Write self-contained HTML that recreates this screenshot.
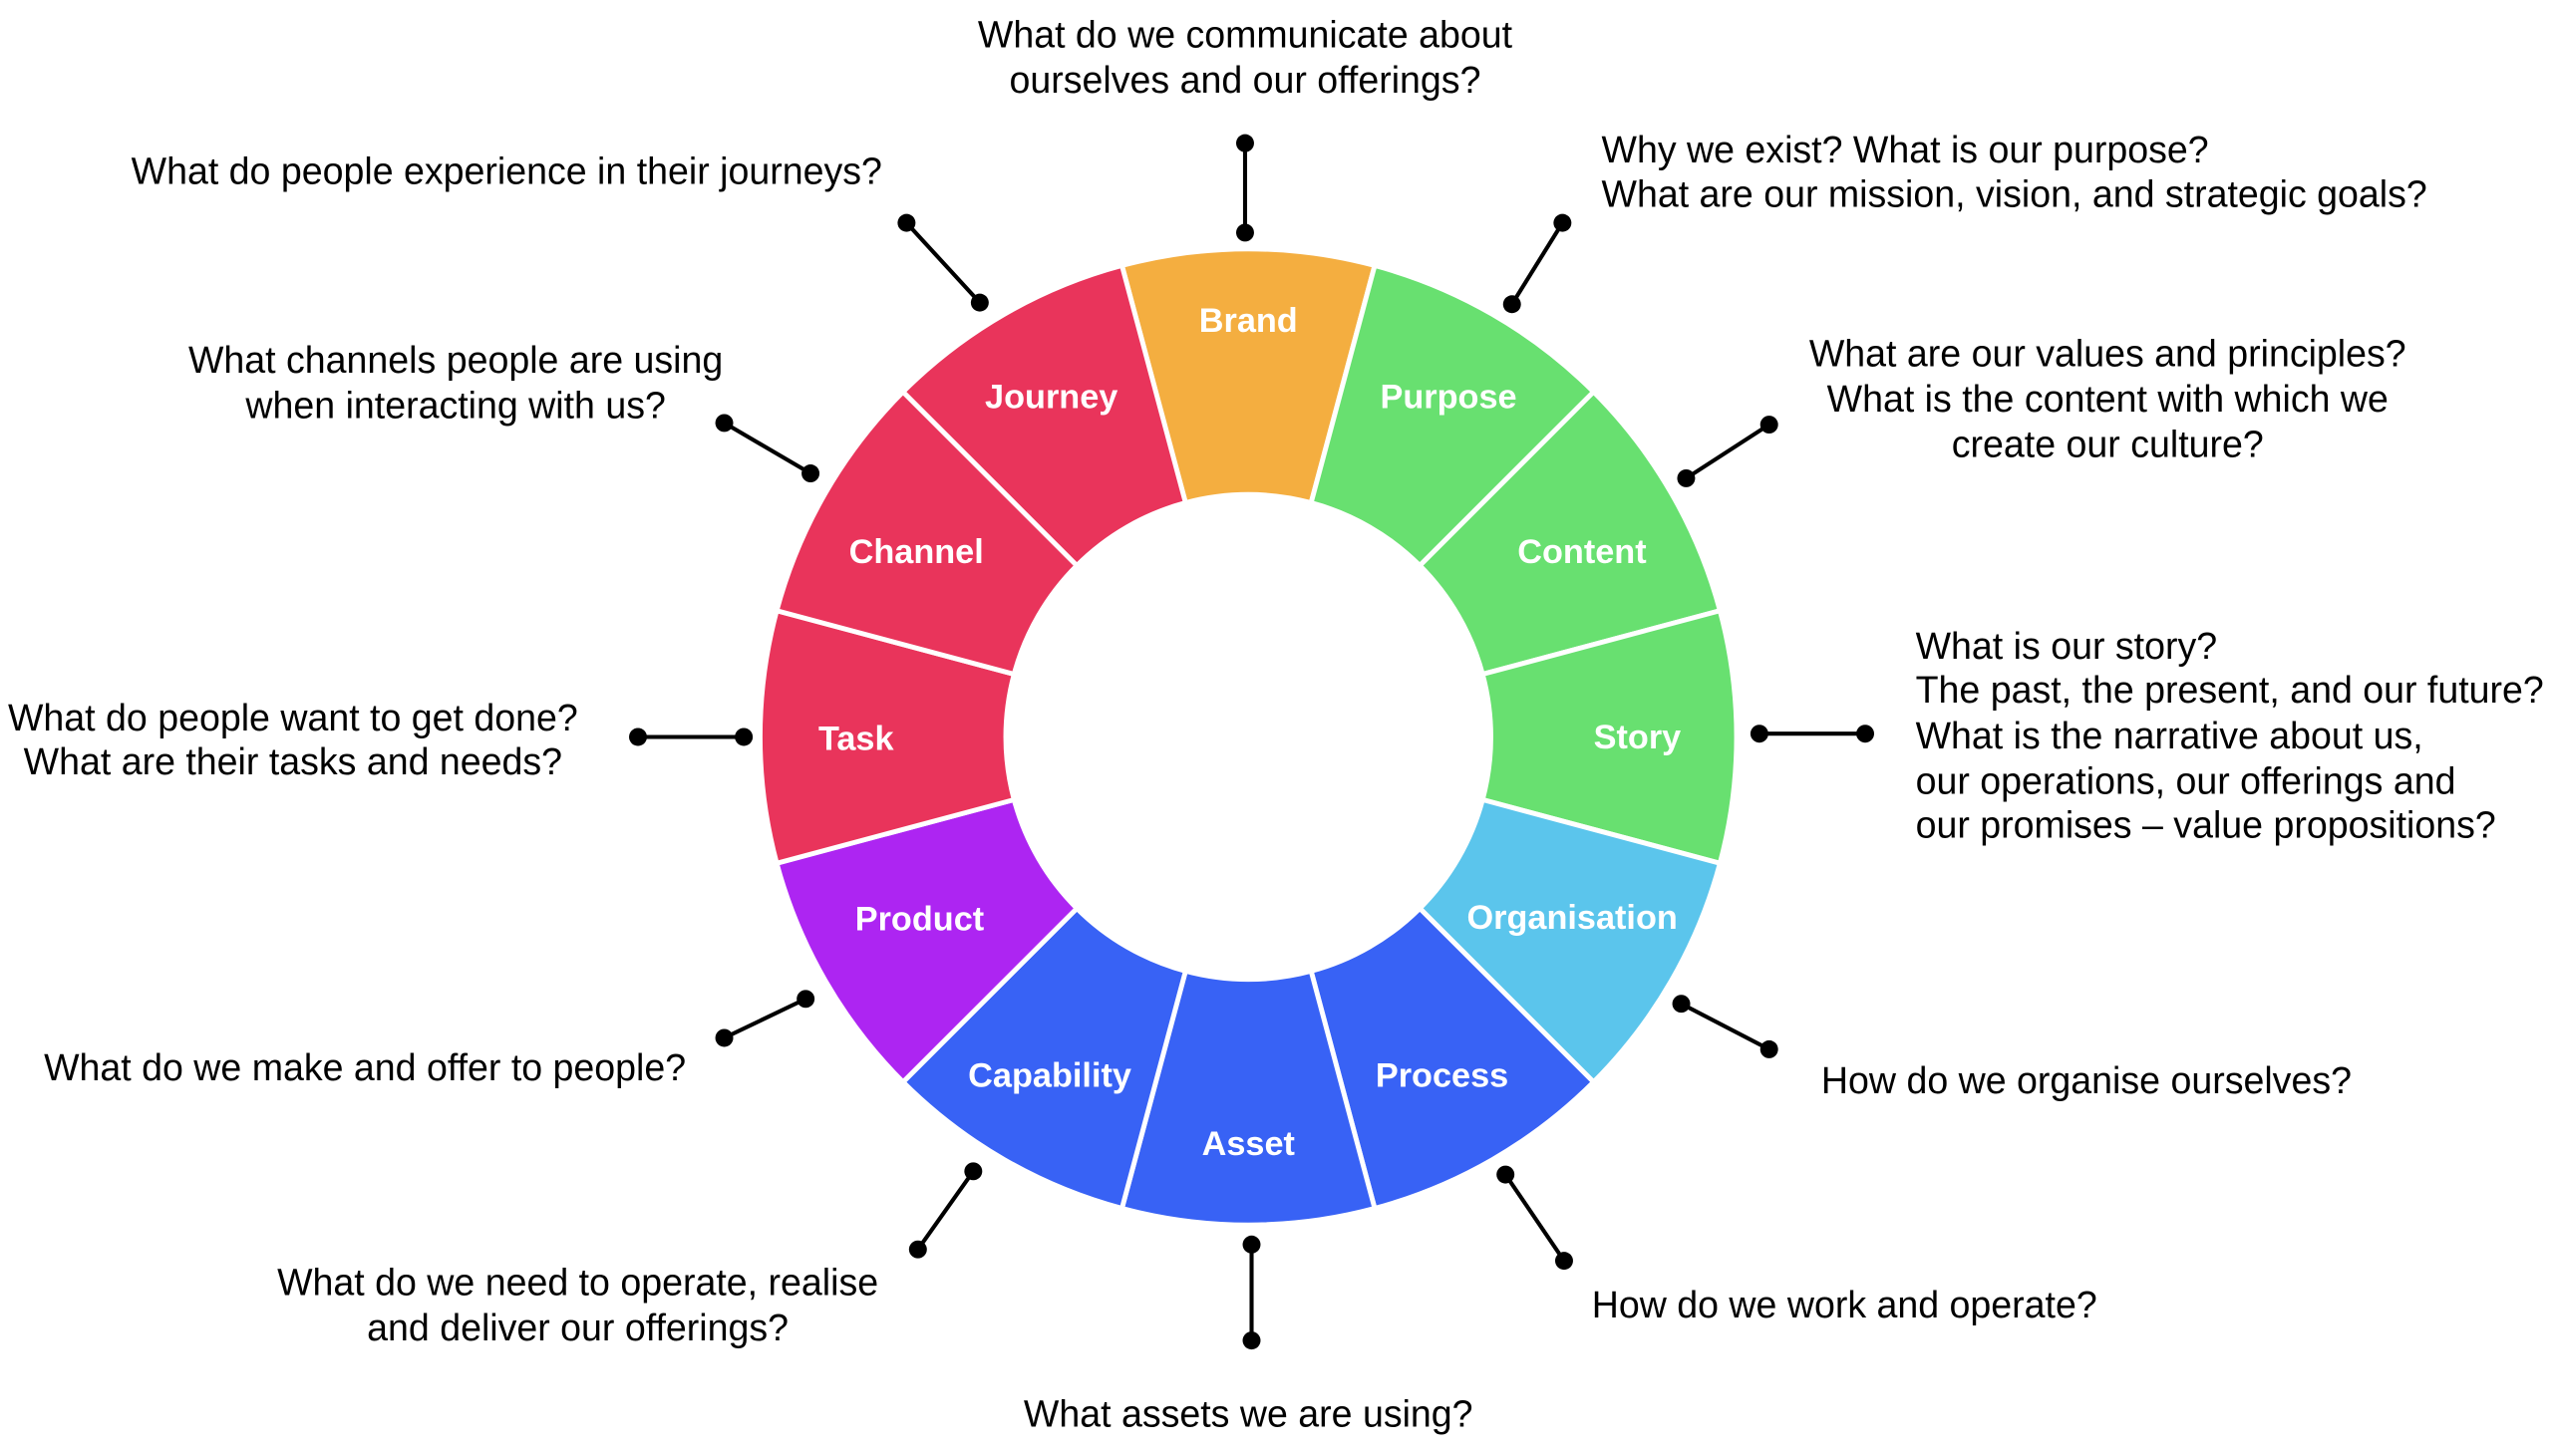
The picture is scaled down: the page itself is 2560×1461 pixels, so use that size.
<!DOCTYPE html>
<html><head><meta charset="utf-8"><style>
html,body{margin:0;padding:0;background:#fff;width:2560px;height:1461px;overflow:hidden}
svg{display:block}
text{font-family:"Liberation Sans",Arial,sans-serif}
.q{font-size:23px;fill:#000}
.s{font-size:21px;font-weight:bold;fill:#fff}
</style></head><body>
<svg id="s" width="2560" height="1461" viewBox="0 0 1568 895" preserveAspectRatio="none" xmlns="http://www.w3.org/2000/svg">
<g id="segs"></g>
<g id="conn"></g>
<g text-anchor="middle" class="s">
<text x="767" y="204">Brand</text>
<text x="890" y="251">Purpose</text>
<text x="972" y="346">Content</text>
<text x="1006" y="460">Story</text>
<text x="966" y="571">Organisation</text>
<text x="886" y="668">Process</text>
<text x="767" y="710">Asset</text>
<text x="645" y="668">Capability</text>
<text x="565" y="572">Product</text>
<text x="526" y="461">Task</text>
<text x="563" y="346">Channel</text>
<text x="646" y="251">Journey</text>
</g>
<g class="q">
<text x="765" y="29" text-anchor="middle">What do we communicate about</text>
<text x="765" y="57" text-anchor="middle">ourselves and our offerings?</text>
<text x="542" y="113" text-anchor="end">What do people experience in their journeys?</text>
<text x="984" y="100">Why we exist? What is our purpose?</text>
<text x="984" y="127">What are our mission, vision, and strategic goals?</text>
<text x="280" y="229" text-anchor="middle">What channels people are using</text>
<text x="280" y="257" text-anchor="middle">when interacting with us?</text>
<text x="1295" y="225" text-anchor="middle">What are our values and principles?</text>
<text x="1295" y="253" text-anchor="middle">What is the content with which we</text>
<text x="1295" y="281" text-anchor="middle">create our culture?</text>
<text x="1177" y="405">What is our story?</text>
<text x="1177" y="432">The past, the present, and our future?</text>
<text x="1177" y="460">What is the narrative about us,</text>
<text x="1177" y="488">our operations, our offerings and</text>
<text x="1177" y="515">our promises – value propositions?</text>
<text x="180" y="449" text-anchor="middle">What do people want to get done?</text>
<text x="180" y="476" text-anchor="middle">What are their tasks and needs?</text>
<text x="1119" y="672">How do we organise ourselves?</text>
<text x="27" y="664">What do we make and offer to people?</text>
<text x="355" y="796" text-anchor="middle">What do we need to operate, realise</text>
<text x="355" y="824" text-anchor="middle">and deliver our offerings?</text>
<text x="978" y="810">How do we work and operate?</text>
<text x="767" y="877" text-anchor="middle">What assets we are using?</text>
</g>
</svg>
<script>
var cx=767,cy=453,R=300,r=149;
var cols=['#F4AE40','#68E070','#68E070','#68E070','#5BC5EC','#3862F5','#3862F5','#3862F5','#AD25F2','#E9345B','#E9345B','#E9345B'];
var ns='http://www.w3.org/2000/svg';
function P(a,rad){var t=(a-90)*Math.PI/180;return [cx+rad*Math.cos(t),cy+rad*Math.sin(t)];}
var g=document.getElementById('segs'),c=document.getElementById('conn');
for(var i=0;i<12;i++){
 var a0=i*30-15,a1=a0+30;
 var p0=P(a0,R),p1=P(a1,R),p2=P(a1,r),p3=P(a0,r);
 var d='M'+p0+' A'+R+' '+R+' 0 0 1 '+p1+' L'+p2+' A'+r+' '+r+' 0 0 0 '+p3+' Z';
 var e=document.createElementNS(ns,'path');e.setAttribute('d',d);e.setAttribute('fill',cols[i]);
 e.setAttribute('stroke','#fff');e.setAttribute('stroke-width','3');g.appendChild(e);
}
var L=[[765,143,765,88],[929,187,960,137],[1036,294,1087,261],[1081,451,1146,451],[1033,617,1087,645],[925,722,961,775],[769,765,769,824],[598,720,564,768],[495,614,445,638],[457,453,392,453],[498,291,445,260],[602,186,557,137]];
L.forEach(function(v){
 var l=document.createElementNS(ns,'line');l.setAttribute('x1',v[0]);l.setAttribute('y1',v[1]);
 l.setAttribute('x2',v[2]);l.setAttribute('y2',v[3]);l.setAttribute('stroke','#000');l.setAttribute('stroke-width','2.5');c.appendChild(l);
 [[v[0],v[1]],[v[2],v[3]]].forEach(function(q){var k=document.createElementNS(ns,'circle');k.setAttribute('cx',q[0]);k.setAttribute('cy',q[1]);k.setAttribute('r','5.5');k.setAttribute('fill','#000');c.appendChild(k);});
});
</script>
</body></html>
